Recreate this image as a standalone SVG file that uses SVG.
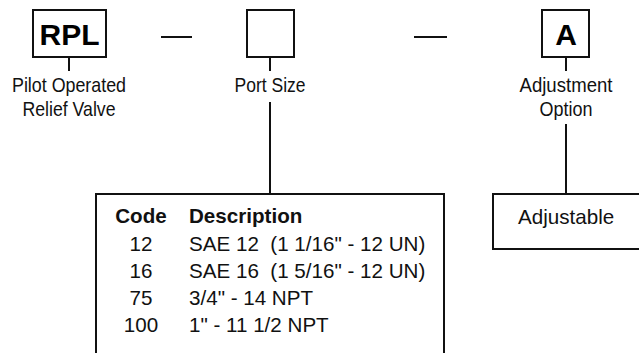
<svg xmlns="http://www.w3.org/2000/svg" width="639" height="353" viewBox="0 0 639 353">
<style>
.box{fill:#fff;stroke:#111;stroke-width:2}
.ln{stroke:#111;stroke-width:2;fill:none}
.big{font-family:"Liberation Sans",Arial,sans-serif;font-weight:bold;font-size:30px;fill:#000;text-anchor:middle}
.lbl{font-family:"Liberation Sans Narrow","Liberation Sans",Arial,sans-serif;font-size:21px;fill:#111;text-anchor:middle}
.tb{font-family:"Liberation Sans",Arial,sans-serif;font-size:20.6px;fill:#111}
.tbb{font-family:"Liberation Sans",Arial,sans-serif;font-size:20.6px;font-weight:bold;fill:#111}
</style>
<rect width="639" height="353" fill="#fff"/>
<g id="connectors">
<line class="ln" x1="69" y1="57" x2="69" y2="71"/>
<line class="ln" x1="270" y1="57" x2="270" y2="71"/>
<line class="ln" x1="566" y1="57" x2="566" y2="71"/>
<line class="ln" x1="270" y1="102" x2="270" y2="194"/>
<line class="ln" x1="566" y1="124" x2="566" y2="193"/>
<line class="ln" x1="161" y1="37" x2="192" y2="37"/>
<line class="ln" x1="414" y1="37" x2="447" y2="37"/>
</g>
<g id="rpl">
<rect class="box" x="33" y="10" width="73" height="47"/>
<text class="big" x="69.5" y="45">RPL</text>
<text class="lbl" x="69" y="92" textLength="114" lengthAdjust="spacingAndGlyphs">Pilot Operated</text>
<text class="lbl" x="69" y="116" textLength="93" lengthAdjust="spacingAndGlyphs">Relief Valve</text>
</g>
<g id="port">
<rect class="box" x="247" y="10" width="47" height="47"/>
<text class="lbl" x="270" y="92" textLength="71" lengthAdjust="spacingAndGlyphs">Port Size</text>
</g>
<g id="adj">
<rect class="box" x="542" y="10" width="47" height="47"/>
<text class="big" x="566" y="45">A</text>
<text class="lbl" x="566" y="92" textLength="93" lengthAdjust="spacingAndGlyphs">Adjustment</text>
<text class="lbl" x="566" y="116" textLength="53" lengthAdjust="spacingAndGlyphs">Option</text>
</g>
<g id="port-table">
<rect class="box" x="96" y="194" width="348" height="170"/>
<text class="tbb" x="141" y="223" text-anchor="middle">Code</text>
<text class="tbb" x="189" y="223">Description</text>
<text class="tb" x="141" y="251" text-anchor="middle">12</text>
<text class="tb" x="189" y="251" xml:space="preserve">SAE 12  (1 1/16" - 12 UN)</text>
<text class="tb" x="141" y="278" text-anchor="middle">16</text>
<text class="tb" x="189" y="278" xml:space="preserve">SAE 16  (1 5/16" - 12 UN)</text>
<text class="tb" x="141" y="305" text-anchor="middle">75</text>
<text class="tb" x="189" y="305">3/4" - 14 NPT</text>
<text class="tb" x="141" y="332" text-anchor="middle">100</text>
<text class="tb" x="189" y="332">1" - 11 1/2 NPT</text>
</g>
<g id="adj-table">
<rect class="box" x="493" y="194" width="160" height="55"/>
<text class="tb" x="518" y="224">Adjustable</text>
</g>
</svg>
